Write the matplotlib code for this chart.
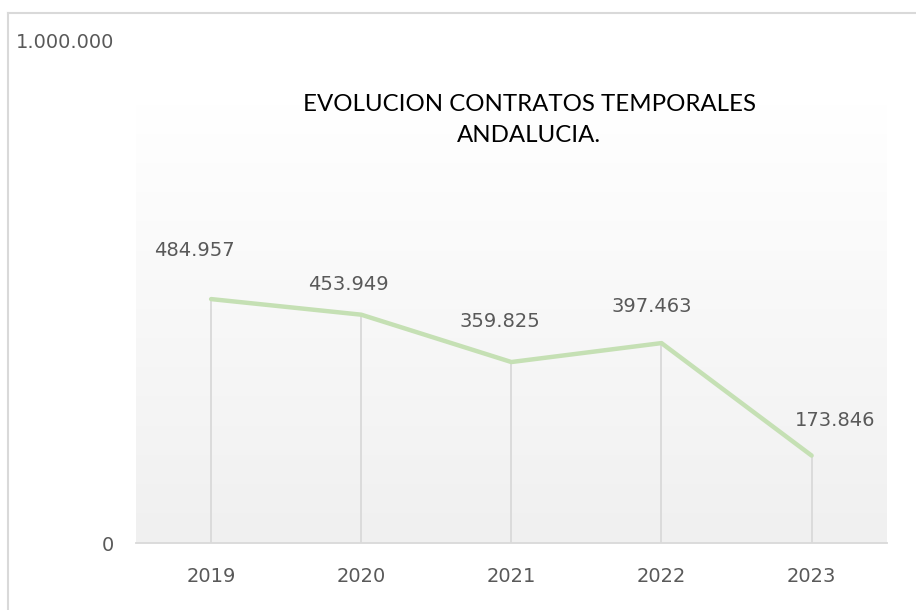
import matplotlib.pyplot as plt
import numpy as np
from matplotlib.ticker import FuncFormatter
from matplotlib.lines import Line2D

years = ['2019', '2020', '2021', '2022', '2023']
contratos = [484957, 453949, 359825, 397463, 173846]
# where each value label sits relative to its point (points)
label_offsets = [(-12, 35), (-9, 22), (-8, 29), (-7, 26), (17, 25)]

gray_txt = '#595959'
grid_gray = '#d9d9d9'
green = '#c5e0b4'


def miles(v, pos):
    return f'{int(v):,}'.replace(',', '.')


fig = plt.figure(figsize=(9.16, 6.10), dpi=100)
ax = fig.add_axes([0.1485, 0.1098, 0.8195, 0.8246])

x = np.arange(len(years))
ax.set_xlim(-0.5, len(years) - 0.5)
ax.set_ylim(0, 1000000)

# soft vertical gradient behind the series
grad = np.linspace(0, 1, 256).reshape(-1, 1)
ax.imshow(grad, cmap=plt.matplotlib.colors.LinearSegmentedColormap.from_list(
    'bg', ['#f0f0f0', '#ffffff']), origin='lower', aspect='auto',
    extent=[-0.5, len(years) - 0.5, 0, 870800], zorder=0)

ax.vlines(x, 0, contratos, color=grid_gray, lw=1.3, zorder=1)
ax.plot(x, contratos, color=green, lw=3.2, solid_capstyle='round', zorder=2)

for xi, v, (dx, dy) in zip(x, contratos, label_offsets):
    ax.annotate(miles(v, None), (xi, v), xytext=(dx, dy), textcoords='offset points',
                ha='center', va='center', fontsize=14, color=gray_txt)

for s in ['left', 'right', 'top']:
    ax.spines[s].set_visible(False)
ax.spines['bottom'].set_color(grid_gray)
ax.spines['bottom'].set_linewidth(1.3)

ax.set_xticks(x)
ax.set_xticklabels(years)
ax.set_yticks([0, 1000000])
ax.yaxis.set_major_formatter(FuncFormatter(miles))
ax.tick_params(axis='both', length=0, labelsize=14, labelcolor=gray_txt)
ax.tick_params(axis='y', pad=16)
ax.tick_params(axis='x', pad=17)

fig.text(0.578, 0.803, 'EVOLUCION CONTRATOS TEMPORALES\nANDALUCIA.',
         ha='center', va='center', fontsize=17.3, color='black',
         family=['Lato', 'DejaVu Sans'], linespacing=1.55)

# chart frame
fig.add_artist(Line2D([0.009, 0.009], [0, 0.979], transform=fig.transFigure,
                      color=grid_gray, lw=1.5))
fig.add_artist(Line2D([0.009, 1], [0.979, 0.979], transform=fig.transFigure,
                      color=grid_gray, lw=1.5))

fig.savefig('out.png', dpi=100)
